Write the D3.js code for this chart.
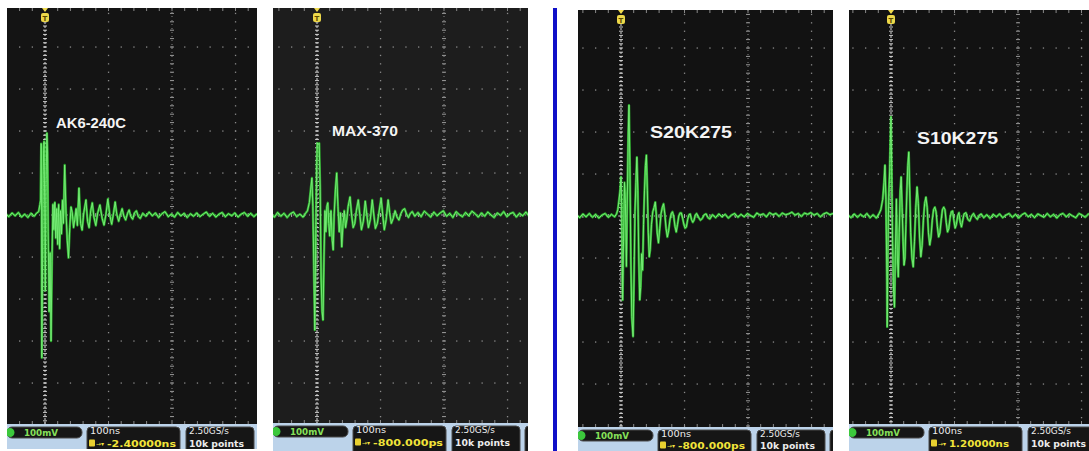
<!DOCTYPE html>
<html><head><meta charset="utf-8">
<script src="https://cdn.jsdelivr.net/npm/d3@7/dist/d3.min.js"></script>
<style>body{margin:0;background:#fff}svg{display:block}</style>
</head><body>
<svg id="c" width="1089" height="451"></svg>
<script>
// ---------------- DATA ----------------
const panelLabels = ["AK6-240C", "MAX-370", "S20K275", "S10K275"];
const voltScaleLabels = ["100mV", "100mV", "100mV", "100mV"];
const timeScaleLabels = ["100ns", "100ns", "100ns", "100ns"];
const triggerPosLabels = ["-2.40000ns", "-800.000ps", "-800.000ps", "1.20000ns"];
const sampleRateLabels = ["2.50GS/s", "2.50GS/s", "2.50GS/s", "2.50GS/s"];
const recordLengthLabels = ["10k points", "10k points", "10k points", "10k points"];
const gridTimes = [-100, 0, 100, 200, 300];          // ns (major divisions)
const gridVolts = [-400, -300, -200, -100, 100, 200, 300, 400]; // mV

// traces: [time ns, voltage mV]
const ak6Trace = [[-62,3],[-57,-4],[-52,5],[-47,-2],[-42,6],[-37,-5],[-32,2],[-27,-6],[-22,4],[-17,-3],[-13,5],
[-10,8],[-8,25],[-7,35],[-6,170],[-5.5,60],[-5,-340],[-4,-150],[-3,90],[-2,160],[-1.5,175],[-0.5,30],[0.5,-180],[1.5,60],[3,195],[4,150],[5,-40],[6.5,-230],[8,-90],[9.5,-300],[11,-110],[12.5,25],[14,-35],[15.5,30],[17,-55],[18.5,15],[20,-70],[21.5,25],[23,-80],[24.5,10],[26,-45],[27.5,35],[29,-20],[31,119],[33,10],[35,-60],[37,-102],[39,-30],[41,19],[43,5],[45,-30],[47,-10],[49,15],[51,-25],[53.5,64],[56,-20],[58.5,-36],[61,5],[64.5,36],[67,-15],[69.5,-30],[72,10],[74.5,29],[77,-5],[80,-25],[83,5],[86.5,24],[90,-8],[93,-24],[96,2],[99,38],[102,0],[105,-22],[108,5],[110.5,31],[113,2],[116,-15],[119,3],[121.5,15],[124,-2],[127,-12],[130,4],[132.5,12],[135,-3],[138,-10],[141,5],[144,10],[147,-4],[150,-8],
[154,4],[159,-3],[164,7],[169,-2],[174,5],[179,-6],[184,3],[189,8],[194,-4],[199,2],[204,-5],[209,6],[214,-2],[219,4],[224,-6],[229,3],[234,-3],[239,5],[244,-4],[249,2],[254,7],[259,-3],[264,4],[269,-5],[274,2],[279,6],[284,-4],[289,3],[294,-2],[299,5],[304,-5],[309,2],[314,6],[319,-3],[324,4],[329,-4],[334,3]];

const max370Trace = [[-72,2],[-67,-5],[-62,6],[-57,-3],[-52,4],[-47,-6],[-42,3],[-37,7],[-32,-4],[-27,2],[-22,-5],[-18,4],
[-15,10],[-12,30],[-10,60],[-8,88],[-6.5,20],[-5,-120],[-3.5,-274],[-2,-60],[-0.5,120],[0.5,171],[2,168],[3.5,171],[5,60],[6.5,-150],[8,-230],[9.5,-250],[11,-100],[12.5,10],[14,-40],[15.5,20],[17,29],[18.5,-20],[20,-50],[22,10],[24,-60],[25.5,-83],[27,0],[29,60],[31,100],[33,20],[35,-40],[37,5],[39,-76],[41,-20],[43,10],[45,-30],[47,-10],[49,20],[52,43],[54.5,0],[57,-30],[59.5,-20],[62,10],[65,36],[67.5,0],[70,-35],[73,-15],[76,33],[78.5,0],[81,-30],[84,-10],[87,36],[89.5,0],[92,-32],[95,-20],[98,10],[101,40],[103.5,0],[106,-35],[109,-10],[112,36],[114.5,5],[117,-20],[120,-8],[123,10],[126,-5],[129,-12],[132,3],[135,12],[138,15],[141,2],[144,-6],[147,4],[150,8],
[154,-3],[159,6],[164,-4],[169,9],[174,2],[179,-5],[184,7],[189,-2],[194,5],[199,10],[204,-3],[209,4],[214,-6],[219,8],[224,1],[229,-4],[234,6],[239,-2],[244,9],[249,3],[254,-5],[259,5],[264,-3],[269,7],[274,0],[279,-6],[284,5],[289,-1],[294,8],[299,-4],[304,3],[309,6],[314,-5],[319,4],[324,-2],[329,7],[334,-3]];

const s20kTrace = [[-70,3],[-65,-4],[-60,5],[-55,-2],[-50,6],[-45,-3],[-40,4],[-35,-5],[-30,2],[-25,6],[-20,-3],[-15,4],[-10,-2],[-7,5],
[-5,15],[-3,40],[-1.5,60],[0,93],[1,30],[2.6,-200],[4,-60],[5.5,80],[7,30],[8.5,-120],[10,50],[11.5,200],[12.6,264],[14,120],[15.5,-100],[17,-240],[19,-287],[20.5,-150],[22,10],[23.5,80],[25,140],[26.5,60],[28,-100],[29.5,-200],[31,-170],[32.5,-90],[34,-129],[35.5,-20],[37,60],[38.5,120],[40,145],[41.5,60],[43,-40],[44.5,-97],[46,-80],[48,-20],[50,10],[52,20],[54,33],[55.5,5],[57,-40],[59,-64],[61,-30],[63,5],[65,20],[67,29],[69,5],[71,-30],[73,-50],[75,-35],[77,-10],[79,5],[81,10],[83,0],[85,-25],[87,-38],[89,-20],[91,0],[93,7],[95,7],[97,-5],[99,-20],[101,-29],[103,-26],[105,-8],[107,3],[109,5],[111,-8],[113,-15],[115,-10],[117,2],[119,6],[122,-3],[125,-10],[128,-6],[131,3],[134,5],[137,-4],[140,-7],
[144,3],[149,-4],[154,5],[159,-2],[164,4],[169,-5],[174,2],[179,6],[184,-3],[189,4],[194,-2],[199,6],[204,1],[209,-3],[214,7],[219,2],[224,5],[229,-2],[234,8],[239,3],[244,6],[249,-1],[254,7],[259,3],[264,5],[269,9],[274,2],[279,6],[284,-1],[289,7],[294,4],[299,8],[304,2],[309,6],[314,-2],[319,5],[324,8],[329,3],[334,6]];

const s10kTrace = [[-68,3],[-63,-4],[-58,5],[-53,-3],[-48,4],[-43,-2],[-38,6],[-33,-4],[-28,3],[-23,-5],[-19,5],
[-16,15],[-13,40],[-11,80],[-9.5,121],[-8,40],[-6.5,-150],[-6,-264],[-5,-100],[-3.5,50],[-2,110],[-1,180],[0,236],[1,120],[2.5,-60],[4,-180],[5.5,-217],[7,-80],[8.5,40],[10,-100],[11.5,-145],[13,-40],[14.5,60],[16,93],[17.5,20],[19,-60],[20.5,-117],[22,-100],[23.5,-20],[25,60],[26.5,120],[28,152],[29.5,60],[31,-40],[33,-100],[35,-121],[37,-60],[39,20],[41,69],[43,30],[45,-50],[47,-97],[49,-70],[51,-10],[53,30],[55,45],[57,20],[59,-40],[61,-69],[63,-50],[65,-10],[67,15],[69,21],[71,10],[73,-25],[75,-50],[77,-40],[79,-10],[81,15],[83,21],[85,15],[87,-15],[89,-38],[91,-30],[93,-5],[95,10],[97,12],[99,-10],[101,-29],[103,-20],[105,0],[107,8],[109,-15],[111,-26],[113,-10],[115,5],[118,8],[121,-8],[124,-12],[127,0],[130,6],[133,-3],[136,-8],[139,2],[142,5],
[146,-4],[151,3],[156,-6],[161,4],[166,-2],[171,5],[176,-4],[181,2],[186,6],[191,-3],[196,4],[201,-5],[206,3],[211,7],[216,-2],[221,4],[226,-4],[231,5],[236,1],[241,-3],[246,6],[251,-2],[256,4],[261,-5],[266,3],[271,6],[276,-2],[281,5],[286,0],[291,-4],[296,6],[301,2],[306,-3],[311,5],[316,1]];

const traces = [ak6Trace, max370Trace, s20kTrace, s10kTrace];

// ---------------- LAYOUT ----------------
const divW = 63.5, divH = 42;
const layout = [
  {left:7,   right:257,  top:8,  bottom:424, statusBottom:449, trig:45,  zero:215, bg:"#141414", lx:56,  ly:128, ls:15, ll:70, tl:69},
  {left:273, right:528,  top:8,  bottom:423, statusBottom:451, trig:317, zero:215, bg:"#1d1d1d", lx:332, ly:136, ls:15, ll:66, tl:70},
  {left:578, right:833,  top:10, bottom:427, statusBottom:451, trig:621, zero:216, bg:"#121212", lx:650, ly:138, ls:16, ll:82, tl:67},
  {left:849, right:1089, top:10, bottom:424, statusBottom:451, trig:891, zero:216, bg:"#121212", lx:917, ly:144, ls:16, ll:81, tl:60}
];

const svg = d3.select("#c");
const defs = svg.append("defs");

// blue separator
svg.append("rect").attr("x", 553).attr("y", 8).attr("width", 4).attr("height", 443).attr("fill", "#1010c8");

layout.forEach((L, i) => {
  const x = d3.scaleLinear().domain([0, 100]).range([L.trig, L.trig + divW]);
  const y = d3.scaleLinear().domain([0, 100]).range([L.zero, L.zero - divH]);
  const tMin = x.invert(L.left), tMax = x.invert(L.right);
  const vMax = y.invert(L.top), vMin = y.invert(L.bottom);

  const cid = "clip" + i;
  defs.append("clipPath").attr("id", cid).append("rect")
    .attr("x", L.left).attr("y", L.top).attr("width", L.right - L.left).attr("height", L.bottom - L.top);
  const sid = "sclip" + i;
  defs.append("clipPath").attr("id", sid).append("rect")
    .attr("x", L.left).attr("y", L.bottom).attr("width", L.right - L.left).attr("height", L.statusBottom - L.bottom);

  const g = svg.append("g");
  g.append("rect").attr("x", L.left).attr("y", L.top).attr("width", L.right - L.left).attr("height", L.bottom - L.top).attr("fill", L.bg);

  const grid = g.append("g").attr("clip-path", `url(#${cid})`);
  const minorT = d3.range(Math.ceil(tMin / 20) * 20, tMax + 0.1, 20);
  const minorV = d3.range(Math.ceil(vMin / 20) * 20, vMax + 0.1, 20);

  gridVolts.forEach(v => {
    grid.selectAll(null).data(minorT).join("rect")
      .attr("x", t => x(t) - 0.6).attr("y", y(v) - 0.6).attr("width", 1.3).attr("height", 1.3).attr("fill", "#8a8a8a");
  });
  gridTimes.filter(t => t !== 0 && t !== 200).forEach(t => {
    grid.selectAll(null).data(minorV).join("rect")
      .attr("x", x(t) - 0.6).attr("y", v => y(v) - 0.6).attr("width", 1.3).attr("height", 1.3).attr("fill", "#8a8a8a");
  });
  grid.append("line").attr("x1", x(200)).attr("x2", x(200)).attr("y1", L.top).attr("y2", L.bottom)
    .attr("stroke", "#8a8a8a").attr("stroke-width", 1).attr("stroke-dasharray", "1,3");
  grid.selectAll(null).data(minorV).join("line")
    .attr("x1", x(200) - 2).attr("x2", x(200) + 2).attr("y1", v => y(v)).attr("y2", v => y(v))
    .attr("stroke", "#9a9a9a").attr("stroke-width", 1);
  grid.append("line").attr("x1", L.left).attr("x2", L.right).attr("y1", y(0)).attr("y2", y(0))
    .attr("stroke", "#9a9a9a").attr("stroke-width", 1).attr("stroke-dasharray", "1,3");
  grid.selectAll(null).data(minorT).join("line")
    .attr("x1", t => x(t)).attr("x2", t => x(t)).attr("y1", y(0) - 2).attr("y2", y(0) + 2)
    .attr("stroke", "#aaa").attr("stroke-width", 1);
  [L.top, L.bottom].forEach(ey => {
    grid.selectAll(null).data(minorT).join("line")
      .attr("x1", t => x(t)).attr("x2", t => x(t)).attr("y1", ey === L.top ? ey : ey - 3).attr("y2", ey === L.top ? ey + 3 : ey)
      .attr("stroke", "#8a8a8a").attr("stroke-width", 1);
  });
  grid.append("line").attr("x1", x(0)).attr("x2", x(0)).attr("y1", L.top + 14).attr("y2", L.bottom)
    .attr("stroke", "#d8d8d8").attr("stroke-width", 1).attr("stroke-dasharray", "2,2");
  grid.selectAll(null).data(d3.range(Math.ceil(vMin / 10) * 10, vMax - 30, 10)).join("line")
    .attr("x1", x(0) - 2).attr("x2", x(0) + 2).attr("y1", v => y(v)).attr("y2", v => y(v))
    .attr("stroke", "#e0e0e0").attr("stroke-width", 0.9);

  // trace
  const line = d3.line().x(d => x(d[0])).y(d => y(d[1]));
  const tg = g.append("g").attr("clip-path", `url(#${cid})`);
  tg.append("path").datum(traces[i]).attr("d", line).attr("fill", "none")
    .attr("stroke", "#2fbf2f").attr("stroke-width", 2.4).attr("stroke-linejoin", "round").attr("opacity", 0.85);
  tg.append("path").datum(traces[i]).attr("d", line).attr("fill", "none")
    .attr("stroke", "#7cf07c").attr("stroke-width", 0.9).attr("stroke-linejoin", "round");

  // trigger marker
  const tx = x(0);
  g.append("path").attr("d", `M${tx - 3},${L.top} L${tx + 3},${L.top} L${tx},${L.top + 4} Z`).attr("fill", "#f0dc50");
  g.append("rect").attr("x", tx - 4).attr("y", L.top + 5).attr("width", 8).attr("height", 9).attr("rx", 2).attr("fill", "#ecd84a");
  g.append("text").attr("x", tx).attr("y", L.top + 12.5).attr("text-anchor", "middle")
    .attr("font-family", "DejaVu Sans").attr("font-weight", "bold").attr("font-size", 7).attr("fill", "#5a4800").text("T");

  // label
  g.append("text").attr("x", L.lx).attr("y", L.ly).attr("font-family", "Liberation Sans, Arial").attr("font-weight", "bold")
    .attr("font-size", L.ls).attr("fill", "#f4f4f4").attr("textLength", L.ll).attr("lengthAdjust", "spacingAndGlyphs")
    .text(panelLabels[i]);

  // status bar
  const sb = svg.append("g").attr("clip-path", `url(#${sid})`);
  const b = L.bottom;
  const y1 = b + 10, y2 = Math.min(b + 22.5, L.statusBottom - 2.5);
  sb.append("rect").attr("x", L.left).attr("y", b).attr("width", L.right - L.left).attr("height", L.statusBottom - b).attr("fill", "#bcd3ea");
  sb.selectAll(null).data(minorT).join("line")
    .attr("x1", t => x(t)).attr("x2", t => x(t)).attr("y1", b - 3).attr("y2", b).attr("stroke", "#8a8a8a");
  sb.append("rect").attr("x", L.left).attr("y", b + 3).attr("width", 75).attr("height", 11).attr("rx", 5)
    .attr("fill", "#161616").attr("stroke", "#4a4a4a");
  sb.append("circle").attr("cx", L.left + 3).attr("cy", b + 8.5).attr("r", 4.5).attr("fill", "#3cc83c");
  sb.append("text").attr("x", L.left + 17).attr("y", b + 12).attr("font-family", "DejaVu Sans").attr("font-weight", "bold")
    .attr("font-size", 9).attr("fill", "#86e05a").attr("textLength", 34).attr("lengthAdjust", "spacingAndGlyphs").text(voltScaleLabels[i]);
  const b2 = L.left + 80;
  sb.append("rect").attr("x", b2).attr("y", b + 3).attr("width", 93).attr("height", 30).attr("rx", 4)
    .attr("fill", "#161616").attr("stroke", "#4a4a4a");
  sb.append("text").attr("x", b2 + 3).attr("y", y1).attr("font-family", "DejaVu Sans").attr("font-size", 9.5)
    .attr("fill", "#ececec").attr("textLength", 30).attr("lengthAdjust", "spacingAndGlyphs").text(timeScaleLabels[i]);
  sb.append("rect").attr("x", b2 + 2).attr("y", y2 - 7).attr("width", 6).attr("height", 7).attr("rx", 1).attr("fill", "#e8d030");
  sb.append("text").attr("x", b2 + 9).attr("y", y2 - 1).attr("font-family", "DejaVu Sans").attr("font-size", 6)
    .attr("fill", "#f0e040").text("→▾");
  sb.append("text").attr("x", b2 + 20).attr("y", y2).attr("font-family", "DejaVu Sans").attr("font-weight", "bold")
    .attr("font-size", 9.5).attr("fill", "#f2e43a").attr("textLength", L.tl).attr("lengthAdjust", "spacingAndGlyphs").text(triggerPosLabels[i]);
  const b3 = L.left + 179;
  sb.append("rect").attr("x", b3).attr("y", b + 3).attr("width", 68).attr("height", 30).attr("rx", 4)
    .attr("fill", "#161616").attr("stroke", "#4a4a4a");
  sb.append("text").attr("x", b3 + 3).attr("y", y1).attr("font-family", "DejaVu Sans").attr("font-size", 9.5)
    .attr("fill", "#ececec").attr("textLength", 40).attr("lengthAdjust", "spacingAndGlyphs").text(sampleRateLabels[i]);
  sb.append("text").attr("x", b3 + 3).attr("y", y2).attr("font-family", "DejaVu Sans").attr("font-weight", "bold").attr("font-size", 9.5)
    .attr("fill", "#ececec").attr("textLength", 55).attr("lengthAdjust", "spacingAndGlyphs").text(recordLengthLabels[i]);
  sb.append("rect").attr("x", L.left + 252).attr("y", b + 3).attr("width", 30).attr("height", 30).attr("rx", 4)
    .attr("fill", "#161616").attr("stroke", "#4a4a4a");
});
</script>
</body></html>
